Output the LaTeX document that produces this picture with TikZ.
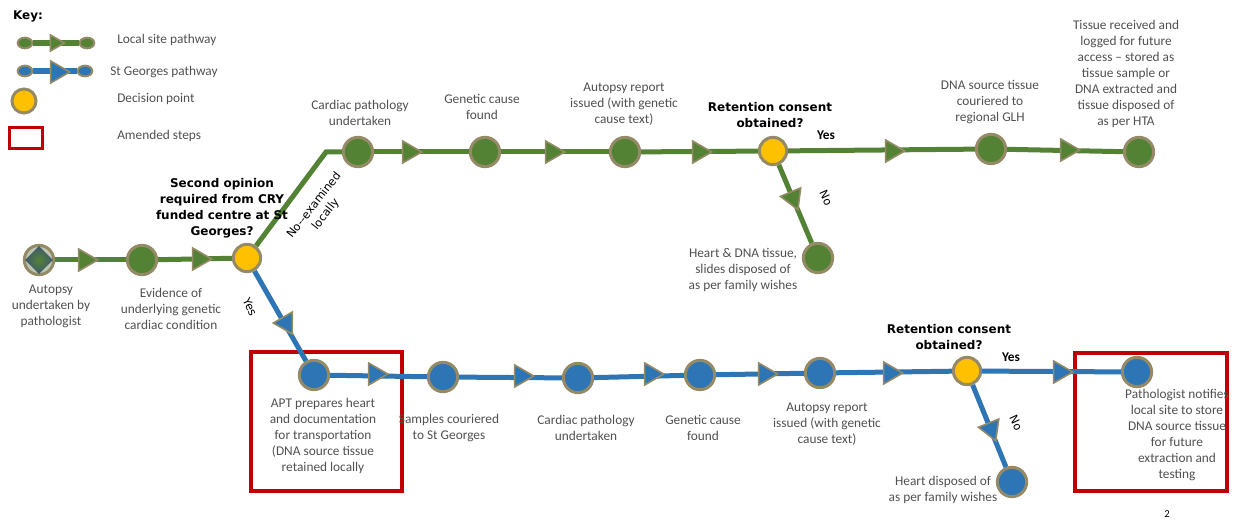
\documentclass[tikz,border=0pt]{standalone}
\usepackage{fontspec}
\setmainfont{Carlito}
\newfontfamily\dvs{DejaVu Sans}
\usetikzlibrary{shapes.geometric}
\definecolor{gr}{RGB}{84,130,53}
\definecolor{bl}{RGB}{46,117,182}
\definecolor{tanc}{RGB}{148,138,102}
\definecolor{yel}{RGB}{255,192,0}
\definecolor{rd}{RGB}{192,0,0}
\definecolor{txt}{RGB}{80,80,80}
\definecolor{slate}{RGB}{62,88,110}
\definecolor{startbg}{RGB}{190,198,182}
\tikzset{
  stn/.style={circle, draw=tanc, line width=2.25pt, minimum size=22pt, inner sep=0pt},
  gn/.style={stn, fill=gr},
  bn/.style={stn, fill=bl},
  dn/.style={stn, fill=yel, minimum size=20.5pt},
  gline/.style={draw=gr, line width=3.75pt},
  bline/.style={draw=bl, line width=3.75pt},
  tri/.style={regular polygon, regular polygon sides=3, draw=tanc, line width=1.2pt, minimum size=19pt, inner sep=0pt},
  gtri/.style={tri, fill=gr},
  btri/.style={tri, fill=bl},
  lbl/.style={font=\fontsize{10}{12}\selectfont, text=txt, align=center, inner sep=0pt},
  keytxt/.style={font=\fontsize{10}{12}\selectfont, text=txt, anchor=west, inner sep=0pt},
  quest/.style={font=\dvs\bfseries\fontsize{9}{12}\selectfont, align=center, inner sep=0pt},
  yesno/.style={font=\bfseries\fontsize{10}{12}\selectfont, inner sep=0pt},
  rottxt/.style={font=\dvs\fontsize{8.5}{11}\selectfont, align=center, inner sep=0pt},
  redbox/.style={draw=rd, line width=3pt, inner sep=0pt}
}
\begin{document}
\begin{tikzpicture}[x=0.75pt,y=-0.75pt]
\useasboundingbox (0,0) rectangle (1238,520);

% ---------- Key ----------
\node[font=\dvs\bfseries\fontsize{9}{11}\selectfont, inner sep=0pt] (keyt) at (28,16) {Key:};
\node[ellipse, draw=tanc, line width=1.5pt, fill=gr, minimum width=11pt, minimum height=8pt, inner sep=0pt] (kg1) at (25,43) {};
\node[ellipse, draw=tanc, line width=1.5pt, fill=gr, minimum width=11pt, minimum height=8pt, inner sep=0pt] (kg2) at (87,43) {};
\draw[draw=gr, line width=4pt] (kg1) -- (kg2);
\node[gtri, rotate=-90, minimum size=14pt] (kga) at (55,43) {};
\node[keytxt] (kgt) at (117,40) {Local site pathway};

\node[ellipse, draw=tanc, line width=1.5pt, fill=bl, minimum width=11pt, minimum height=8pt, inner sep=0pt] (kb1) at (25,71) {};
\node[ellipse, draw=tanc, line width=1.5pt, fill=bl, minimum width=11pt, minimum height=8pt, inner sep=0pt] (kb2) at (85,71) {};
\draw[draw=bl, line width=4pt] (kb1) -- (kb2);
\node[btri, rotate=-90] (kba) at (57,72) {};
\node[keytxt] (kbt) at (110,72) {St Georges pathway};

\node[stn, fill=yel, minimum size=18pt] (kd) at (24,101) {};
\node[keytxt] (kdt) at (117,99) {Decision point};

\node[redbox, line width=2.25pt, minimum width=24.75pt, minimum height=15.75pt] (kr) at (26,138) {};
\node[keytxt] (krt) at (117,136) {Amended steps};

% ---------- Red boxes ----------
\node[redbox, minimum width=113pt, minimum height=104pt] (rb1) at (326.5,421.5) {};
\node[redbox, minimum width=114pt, minimum height=103.5pt] (rb2) at (1151,422) {};

% ---------- Green nodes ----------
\node[stn, fill=startbg] (start) at (39,260) {};
\node[diamond, shading=radial, inner color=gr, outer color=slate, minimum width=21pt, minimum height=21pt, inner sep=0pt] (startd) at (start) {};
\node[gn] (g2) at (142,260) {};
\node[dn] (dec1) at (247,258) {};
\coordinate (c1) at (326,152);
\node[gn] (t1) at (358,152) {};
\node[gn] (t2) at (485,152) {};
\node[gn] (t3) at (625,152) {};
\node[dn] (dec2) at (773,151) {};
\node[gn] (t5) at (991,149) {};
\node[gn] (t6) at (1139,152) {};
\node[gn] (no1) at (818,258) {};

% ---------- Blue nodes ----------
\node[bn] (b1) at (314,375) {};
\node[bn] (b2) at (443,377) {};
\node[bn] (b3) at (578,378) {};
\node[bn] (b4) at (700,375) {};
\node[bn] (b5) at (820,373) {};
\node[dn] (dec3) at (967,371) {};
\node[bn] (b7) at (1137,372) {};
\node[bn] (no2) at (1012,482) {};

% ---------- Connectors ----------
\draw[gline] (start) -- (g2);
\draw[gline] (g2) -- (dec1);
\draw[gline] (dec1) -- (c1) -- (t1);
\draw[gline] (t1) -- (t2);
\draw[gline] (t2) -- (t3);
\draw[gline] (t3) -- (dec2);
\draw[gline] (dec2) -- (t5);
\draw[gline] (t5) -- (t6);
\draw[gline] (dec2) -- (no1);

\draw[bline] (dec1) -- (b1);
\draw[bline] (b1) -- (b2);
\draw[bline] (b2) -- (b3);
\draw[bline] (b3) -- (b4);
\draw[bline] (b4) -- (b5);
\draw[bline] (b5) -- (dec3);
\draw[bline] (dec3) -- (b7);
\draw[bline] (dec3) -- (no2);

% ---------- Arrow triangles ----------
\node[gtri, rotate=-90] (ga1) at (85,260) {};
\node[gtri, rotate=-90] (ga2) at (199,259) {};
\node[gtri, rotate=-90] (ga3) at (409,152) {};
\node[gtri, rotate=-90] (ga4) at (552,152) {};
\node[gtri, rotate=-90] (ga5) at (699,152) {};
\node[gtri, rotate=-90] (ga6) at (892,151) {};
\node[gtri, rotate=-90] (ga7) at (1067,150) {};
\node[gtri, rotate=-157.2] (ga8) at (793,198) {};

\node[btri, rotate=-149.8] (ba1) at (286,323) {};
\node[btri, rotate=-90] (ba2) at (375,374) {};
\node[btri, rotate=-90] (ba3) at (521,376) {};
\node[btri, rotate=-90] (ba4) at (651,374) {};
\node[btri, rotate=-90] (ba5) at (765,374) {};
\node[btri, rotate=-90] (ba6) at (890,373) {};
\node[btri, rotate=-90] (ba7) at (1060,372) {};
\node[btri, rotate=-157.9] (ba8) at (991,429) {};

% ---------- Labels ----------
\node[lbl] (l1) at (51,306) {Autopsy\\undertaken by\\pathologist};
\node[lbl] (l2) at (171,309) {Evidence of\\underlying genetic\\cardiac condition};
\node[quest] (q1) at (222,208) {Second opinion\\required from CRY\\funded centre at St\\Georges?};
\node[rottxt, rotate=52] (nx) at (320,210) {No--examined\\locally};
\node[rottxt, rotate=-65] (y1) at (250,307) {Yes};

\node[lbl] (l3) at (360,113) {Cardiac pathology\\undertaken};
\node[lbl] (l4) at (482,107) {Genetic cause\\found};
\node[lbl] (l5) at (624,104) {Autopsy report\\issued (with genetic\\cause text)};
\node[quest] (q2) at (770,115) {Retention consent\\obtained?};
\node[yesno] (y2) at (826,135) {Yes};
\node[rottxt, rotate=-65] (n2) at (826,198) {No};
\node[lbl] (l6) at (990,102) {DNA source tissue\\couriered to\\regional GLH};
\node[lbl] (l7) at (1126,74) {Tissue received and\\logged for future\\access -- stored as\\tissue sample or\\DNA extracted and\\tissue disposed of\\as per HTA};
\node[lbl] (l8) at (743,270) {Heart \& DNA tissue,\\slides disposed of\\as per family wishes};

\node[lbl] (l9) at (323,436) {APT prepares heart\\and documentation\\for transportation\\(DNA source tissue\\retained locally};
\node[lbl] (l10) at (449,428) {Samples couriered\\to St Georges};
\node[lbl] (l11) at (586,428) {Cardiac pathology\\undertaken};
\node[lbl] (l12) at (703,428) {Genetic cause\\found};
\node[lbl] (l13) at (827,424) {Autopsy report\\issued (with genetic\\cause text)};
\node[quest] (q3) at (949,337) {Retention consent\\obtained?};
\node[yesno] (y3) at (1011,357) {Yes};
\node[rottxt, rotate=-65] (n3) at (1016,423) {No};
\node[lbl] (l14) at (943,490) {Heart disposed of\\as per family wishes};
\node[lbl] (l15) at (1177,435) {Pathologist notifies\\local site to store\\DNA source tissue\\for future\\extraction and\\testing};

\node[font=\fontsize{8}{10}\selectfont, inner sep=0pt] (pg) at (1167,514) {2};
\end{tikzpicture}
\end{document}
